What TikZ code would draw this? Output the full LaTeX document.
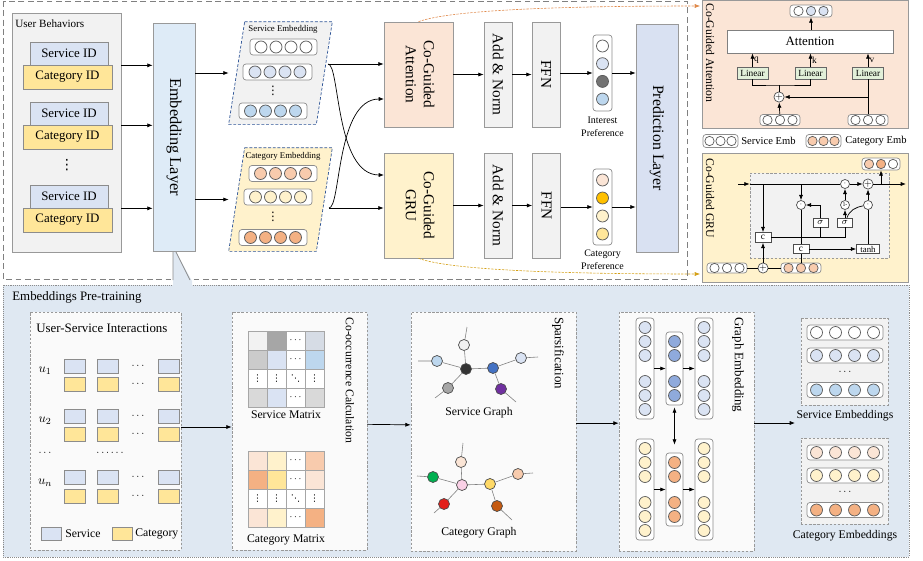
\documentclass[tikz,border=0pt]{standalone}
\usepackage{fontspec}
\setmainfont{Liberation Serif}
\newfontfamily\dotsfont{DejaVu Sans}
\usetikzlibrary{arrows.meta}
\definecolor{svc}{HTML}{DAE3F3}
\definecolor{sblue}{HTML}{BDD7EE}
\definecolor{yel}{HTML}{FFE699}
\definecolor{lyel}{HTML}{FFF2CC}
\definecolor{peach}{HTML}{FBE5D6}
\definecolor{peachb}{HTML}{F8CBAD}
\definecolor{orng}{HTML}{F4B183}
\definecolor{gold}{HTML}{FFC000}
\definecolor{lgrey}{HTML}{F2F2F2}
\definecolor{mgrey}{HTML}{D9D9D9}
\definecolor{mgreyb}{HTML}{CBCBCB}
\definecolor{dgrey}{HTML}{A6A6A6}
\definecolor{sgrey}{HTML}{D6DCE5}
\definecolor{offwhite}{HTML}{FAFAFA}
\definecolor{embblue}{HTML}{DEEBF7}
\definecolor{predblue}{HTML}{D9E1F2}
\definecolor{poolblue}{HTML}{DFE8F2}
\definecolor{lgreen}{HTML}{E2F0D9}
\definecolor{gcnblue}{HTML}{8FAADC}
\definecolor{dashblue}{HTML}{2F5597}
\definecolor{attnline}{HTML}{E08A4C}
\definecolor{gruline}{HTML}{D4A017}
\definecolor{nblue}{HTML}{4472C4}
\definecolor{npurple}{HTML}{7030A0}
\definecolor{npink}{HTML}{FAD0E6}
\definecolor{nyel}{HTML}{FFD966}
\definecolor{ngreen}{HTML}{00B050}
\definecolor{nred}{HTML}{E3201B}
\definecolor{nbrown}{HTML}{C55A11}
\newcommand{\fs}[2]{\fontsize{#1}{#2}\selectfont}
\newcommand{\vdts}{{\dotsfont ⋮}}
\newcommand{\ddts}{{\dotsfont ⋱}}
\newcommand{\hcells}[6]{\foreach \k in {1,...,#4}
  \node[#6] (#1-\k) at ({#2+(\k-(#4+1)/2)*#5},#3) {};}

\begin{document}
\begin{tikzpicture}[x=0.03cm, y=-0.03cm, >={Latex[length=4.5pt,width=3.5pt]}, line width=0.6pt,
  wd/.style={minimum width=#1*0.03cm}, ht/.style={minimum height=#1*0.03cm},
  box/.style={draw=black!40, inner sep=0pt, font=\fs{13}{15.5}},
  idbox/.style={draw=black!45, inner sep=0pt, font=\fs{11}{13}},
  vec/.style={draw=black!45, fill=white, rounded corners=2.5pt, inner sep=0pt},
  cell/.style={circle, draw=black!65, inner sep=0pt, minimum size=0.36cm},
  scell/.style={circle, draw=black!65, inner sep=0pt, minimum size=0.28cm},
  op/.style={circle, draw=black!70, fill=white, inner sep=0pt, minimum size=0.3cm, font=\fs{8}{9}},
  dotop/.style={circle, draw=black!70, fill=white, inner sep=0pt, minimum size=0.27cm, font=\fs{7}{8}},
  gate/.style={draw=black!70, fill=white, inner sep=0pt, font=\fs{8}{9}},
  lin/.style={draw=black!60, fill=lgreen, inner sep=0pt, wd=31, ht=12, font=\fs{8}{9}},
  inbox/.style={draw=black!40, dash pattern=on 2pt off 1.5pt, fill=offwhite, inner sep=0pt},
  embpanel/.style={draw=dashblue, dash pattern=on 2.5pt off 1.5pt},
  sq/.style={draw=black!45, inner sep=0pt, wd=21, ht=14},
  mcell/.style={draw=black!35, inner sep=0pt, minimum size=0.57cm, font=\fs{8}{10}},
  gnode/.style={circle, draw=black!70, inner sep=0pt, minimum size=0.33cm},
  gedge/.style={draw=black!50, line width=0.5pt},
  dots/.style={inner sep=0pt, font=\fs{9}{10}},
  attnflow/.style={draw=attnline, dash pattern=on 2pt off 1pt, line width=0.5pt},
  gruflow/.style={draw=gruline, dash pattern=on 2pt off 1pt, line width=0.5pt},
  title/.style={inner sep=0pt, font=\fs{11}{13}}]
  \useasboundingbox (0,0) rectangle (923,561);
  \draw[black!50, dash pattern=on 5pt off 3pt] (3,1) rectangle (687,279);
  \draw[black!45, densely dotted, fill=poolblue] (3,285) rectangle (909,557);
  \fill[poolblue] (173,252) -- (176,252) -- (192,281) -- (192,287) -- (173,287) -- cycle;
  \draw[black!45] (173,252) -- (173,280) (176,252) -- (190,280);

  \node[draw=black!40, fill=lgrey, wd=109, ht=239] (ubeh) at (66.5,132.5) {};
  \node[anchor=west, inner sep=0pt, font=\fs{9.5}{11}] (ubtit) at (15,24) {User Behaviors};
  \foreach \n/\y in {1/53.5, 2/113.5, 3/196.5} {
    \node[idbox, fill=svc, wd=78, ht=23] (sid\n) at (69,\y) {Service ID};
    \node[idbox, fill=yel, wd=89, ht=24] (cid\n) at (67.5,\y+23.5) {Category ID};
  }
  \node[dots, font=\fs{12}{14}] (udots) at (67,165) {\vdts};
  \node[box, fill=embblue, wd=42, ht=228, font=\fs{14}{16}] (emb) at (174,137) {\rotatebox{-90}{Embedding Layer}};
  \foreach \n in {1,2,3} \draw[->] (sid\n.south -| ubeh.east) -- (sid\n.south -| emb.west);

  \node[inner sep=0pt, wd=103, ht=102] (sepan) at (280.5,73) {};
  \draw[embpanel, fill=lgrey] ([xshift=0.48cm]sepan.north west) -- (sepan.north east) -- ([xshift=-0.48cm]sepan.south east) -- (sepan.south west) -- cycle;
  \node[inner sep=0pt, font=\fs{7.5}{9}] (selab) at (283,29) {Service Embedding};
  \node[vec, wd=67, ht=16] (ser1) at (283.5,47) {};
  \hcells{ser1}{283.5}{47}{4}{15}{cell, fill=white}
  \node[vec, wd=69, ht=16] (ser2) at (277.5,72) {};
  \hcells{ser2}{277.5}{72}{4}{15}{cell, fill=svc}
  \node[dots, font=\fs{10}{12}] (sedots) at (273,91) {\vdts};
  \node[vec, wd=68, ht=16] (ser3) at (273,111) {};
  \hcells{ser3}{273}{111}{4}{15}{cell, fill=sblue}

  \node[inner sep=0pt, wd=103, ht=103] (cepan) at (280.5,199.5) {};
  \draw[embpanel, fill=lyel] ([xshift=0.48cm]cepan.north west) -- (cepan.north east) -- ([xshift=-0.48cm]cepan.south east) -- (cepan.south west) -- cycle;
  \node[inner sep=0pt, font=\fs{7.5}{9}] (celab) at (283,156) {Category Embedding};
  \node[vec, wd=68, ht=16] (cer1) at (283,173.5) {};
  \hcells{cer1}{283}{173.5}{4}{15}{cell, fill=peachb}
  \node[vec, wd=68, ht=16] (cer2) at (278,197) {};
  \hcells{cer2}{278}{197}{4}{15}{cell, fill=lyel}
  \node[dots, font=\fs{10}{12}] (cedots) at (273,217) {\vdts};
  \node[vec, wd=68, ht=16] (cer3) at (273,237.5) {};
  \hcells{cer3}{273}{237.5}{4}{15}{cell, fill=orng}
  \draw[->] (sepan.west -| emb.east) -- (sepan.west);
  \draw[->] (cepan.west -| emb.east) -- (cepan.west);

  \node[box, fill=peach, wd=69, ht=105] (attn) at (418.5,74.5) {\rotatebox{-90}{\begin{tabular}{@{}c@{}}Co-Guided\\Attention\end{tabular}}};
  \node[box, fill=lyel, wd=69, ht=105] (gru) at (418.5,205.5) {\rotatebox{-90}{\begin{tabular}{@{}c@{}}Co-Guided\\GRU\end{tabular}}};
  \coordinate (seout) at (328,64);
  \coordinate (ceout) at (329,208);
  \coordinate (gin) at (384,175);
  \coordinate (ain) at (384,99);
  \draw[->] (seout) -- (seout -| attn.west);
  \draw[->] (ceout) -- (ceout -| gru.west);
  \draw[->] (seout) .. controls (340,64) and (335,175) .. (gin);
  \draw[->] (ceout) .. controls (341,208) and (336,99) .. (ain);

  \node[box, fill=lgrey, wd=28, ht=105] (an1) at (498,74.5) {\rotatebox{-90}{Add \& Norm}};
  \node[box, fill=lgrey, wd=28, ht=105] (ffn1) at (546,74.5) {\rotatebox{-90}{FFN}};
  \node[box, fill=lgrey, wd=28, ht=105] (an2) at (498,205.5) {\rotatebox{-90}{Add \& Norm}};
  \node[box, fill=lgrey, wd=28, ht=105] (ffn2) at (546.5,205.5) {\rotatebox{-90}{FFN}};
  \node[vec, wd=19, ht=76] (ivec) at (602.5,73) {};
  \foreach \clr [count=\k] in {white,svc,black!55,sblue}
    \node[cell, fill=\clr] (ivec-\k) at (602.5,{46+(\k-1)*17.7}) {};
  \node[vec, wd=19, ht=76] (cvec) at (602.5,207) {};
  \foreach \clr [count=\k] in {peach,gold,lyel,yel}
    \node[cell, fill=\clr] (cvec-\k) at (602.5,{180+(\k-1)*18}) {};
  \node[inner sep=0pt, font=\fs{8.5}{11}, align=center] (ilab) at (602.5,127) {Interest\\Preference};
  \node[inner sep=0pt, font=\fs{8.5}{11}, align=center] (clab) at (602.5,260) {Category\\Preference};
  \node[box, fill=predblue, wd=42, ht=228, font=\fs{13.5}{16}] (pred) at (657,138) {\rotatebox{-90}{Prediction Layer}};
  \draw[->] (attn) -- (an1);
  \draw[->] (an1) -- (ffn1);
  \draw[->] (ffn1.east |- ivec) -- (ivec.west);
  \draw[->] (ivec.east) -- (ivec.east -| pred.west);
  \draw[->] (gru) -- (an2);
  \draw[->] (an2) -- (ffn2);
  \draw[->] (ffn2.east |- cvec) -- (cvec.west);
  \draw[->] (cvec.east) -- (cvec.east -| pred.west);

  \node[draw=black!40, fill=peach, wd=206, ht=128] (apanel) at (805,64) {};
  \node[draw=black!40, fill=lyel, wd=206, ht=129] (gpanel) at (805,217.5) {};
  \coordinate (atip) at (700,6);
  \coordinate (gtip) at (700,274);
  \draw[attnflow, ->] (attn.north) .. controls (450,10) and (560,6) .. (atip);
  \draw[gruflow, ->] (gru.south) .. controls (450,270) and (560,274) .. (gtip);

  \node[anchor=north, inner sep=0pt, font=\fs{10}{12}] (aptit) at (710,3) {\rotatebox{-90}{Co-Guided Attention}};
  \node[vec, wd=42, ht=12] (aout) at (811,11) {};
  \foreach \clr [count=\k] in {white,svc,svc}
    \node[scell, fill=\clr] (aout-\k) at ({811+(\k-2)*12.5},11) {};
  \node[draw=black!50, fill=white, wd=166, ht=23, font=\fs{11}{13}] (att) at (810,41.5) {Attention};
  \node[lin] (lq) at (752.5,73) {Linear};
  \node[lin] (lk) at (810.5,73) {Linear};
  \node[lin] (lv) at (868,73) {Linear};
  \draw[->] (att.north -| aout) -- (aout.south);
  \draw[->] (lq) -- (lq |- att.south) node[midway, right, inner sep=1pt, font=\fs{8}{9}] {q};
  \draw[->] (lk) -- (lk |- att.south) node[midway, right, inner sep=1pt, font=\fs{8}{9}] {k};
  \draw[->] (lv) -- (lv |- att.south) node[midway, right, inner sep=1pt, font=\fs{8}{9}] {v};
  \node[op] (aadd) at (779,97) {$+$};
  \node[vec, wd=40, ht=11] (asv) at (780,120) {};
  \hcells{asv}{780}{120}{3}{12.5}{scell, fill=white}
  \node[vec, wd=40, ht=11] (acv) at (868,120) {};
  \hcells{acv}{868}{120}{3}{12.5}{scell, fill=white}
  \coordinate (qk) at (779,85);
  \draw (lq.south) |- (qk) -| (lk.south);
  \draw (aadd) -- (qk);
  \draw[->] (asv) -- (aadd);
  \draw (acv) -- (lv);
  \draw[->] (acv |- aadd) -- (aadd);

  \node[vec, wd=35, ht=13] (lgs) at (720.5,141) {};
  \hcells{lgs}{720.5}{141}{3}{11}{scell, fill=white}
  \node[anchor=west, inner sep=0pt, font=\fs{9}{11}] (lgst) at (741,141) {Service Emb};
  \node[vec, wd=35, ht=13] (lgc) at (823.5,141) {};
  \hcells{lgc}{823.5}{141}{3}{11}{scell, fill=peachb}
  \node[anchor=west, inner sep=0pt, font=\fs{9}{11}] (lgct) at (845,141) {Category Emb};

  \node[anchor=north, inner sep=0pt, font=\fs{10}{12}] (gptit) at (710,158) {\rotatebox{-90}{Co-Guided GRU}};
  \node[vec, wd=38, ht=12] (gout) at (881,164) {};
  \foreach \clr [count=\k] in {peachb,orng,white}
    \node[scell, fill=\clr] (gout-\k) at ({881+(\k-2)*12},164) {};
  \node[draw=black!40, dash pattern=on 2pt off 1.5pt, fill=lgrey, wd=139, ht=85] (gbox) at (819.5,215.5) {};
  \coordinate (hin) at (738,184);
  \coordinate (hout) at (906,184);
  \node[dotop] (m1) at (845,184) {$\cdot$};
  \node[op] (a1) at (868,184) {$+$};
  \node[dotop] (m2) at (801,205) {$\cdot$};
  \node[dotop] (om) at (845,205) {\fs{5}{6}1-};
  \node[dotop] (m3) at (868,205) {$\cdot$};
  \node[gate, wd=16, ht=10] (c1) at (763,237.5) {c};
  \node[gate, wd=15, ht=9] (s1) at (820.5,222.5) {$\sigma$};
  \node[gate, wd=15, ht=9] (s2) at (845,222.5) {$\sigma$};
  \node[gate, wd=16, ht=9] (c2) at (801,249) {c};
  \node[gate, wd=23, ht=9, font=\fs{7.5}{9}] (tanh) at (868,249) {tanh};
  \node[vec, wd=40, ht=10] (gsv) at (727,268) {};
  \hcells{gsv}{727}{268}{3}{12.5}{scell, fill=white}
  \node[op] (a2) at (763,268) {$+$};
  \node[vec, wd=40, ht=10] (gcv) at (801,268) {};
  \hcells{gcv}{801}{268}{3}{12.5}{scell, fill=peachb}
  \draw[->] (hin) -- (hin -| gbox.west);
  \draw (hin -| gbox.west) -- (m1);
  \draw[->] (m1) -- (a1);
  \draw[->] (a1) -- (hout);
  \draw[->] (gout |- a1) -- (gout);
  \draw[->] (c1 |- hin) -- (c1);
  \draw[->] (m2 |- hin) -- (m2);
  \draw[->] (s1) |- (m2);
  \draw[->] (s2) -- (om);
  \draw[->] (om) -- (m1);
  \draw ([xshift=0.06cm]s2.north) to[out=70, in=190] (m3);
  \draw[->] (m3) -- (a1);
  \draw (tanh) -- (m3);
  \draw[->] (c2) -- (tanh);
  \draw (c1) -| (s2);
  \draw (s1.south |- c1) -- (s1);
  \draw (m2) -- (c2);
  \draw (gsv) -- (a2);
  \draw (a2) -- (gcv);
  \draw[->] (a2) -- (c1);
  \draw (gcv) -- (c2);

  \node[anchor=west, title] (eptit) at (12,297) {Embeddings Pre-training};
  \node[inbox, wd=151, ht=238] (usbox) at (105.5,431) {};
  \node[anchor=west, title] (ustit) at (36,328) {User-Service Interactions};
  \foreach \r/\y/\lab in {1/366/{$u_1$}, 2/416/{$u_2$}, 3/477.5/{$u_n$}} {
    \node[inner sep=0pt, font=\fs{11}{13}] (u\r) at (45,\y+5) {\lab};
    \foreach \cx [count=\c] in {74.5,107.5,168.5} {
      \node[sq, fill=svc] (us\r-\c) at (\cx,\y) {};
      \node[sq, fill=yel] (uc\r-\c) at (\cx,\y+18.5) {};
    }
    \node[dots] (usd\r) at (138,\y) {$\cdots$};
    \node[dots] (ucd\r) at (138,\y+18.5) {$\cdots$};
  }
  \node[dots] (udl) at (45,453) {$\cdots$};
  \node[dots] (udm) at (110,453) {$\cdots\cdots$};
  \node[sq, fill=svc, wd=20, ht=13] (lsv) at (51,533.5) {};
  \node[anchor=west, inner sep=0pt, font=\fs{10}{12}] (lsvt) at (65,534) {Service};
  \node[sq, fill=yel, wd=20, ht=13] (lcat) at (122,533.5) {};
  \node[anchor=west, inner sep=0pt, font=\fs{10}{12}] (lcatt) at (135,534) {Category};

  \node[inbox, wd=135, ht=238] (cobox) at (299.5,431) {};
  \node[anchor=north, inner sep=0pt, font=\fs{10}{12}] (cotit) at (350,317) {\rotatebox{-90}{Co-occurrence Calculation}};
  \foreach \clr/\txt [count=\k] in {lgrey/{}, dgrey/{}, white/{$\cdots$}, sgrey/{},
      mgreyb/{}, svc/{}, white/{$\cdots$}, sblue/{},
      white/{\vdts}, white/{\vdts}, white/{\ddts}, white/{\vdts},
      mgrey/{}, svc/{}, white/{$\cdots$}, mgrey/{}}
    \node[mcell, fill=\clr] (sm-\k) at ({257.5+19*mod(\k-1,4)},{340.5+19*floor((\k-1)/4)}) {\txt};
  \node[inner sep=0pt, font=\fs{10}{12}] (smlab) at (286,415) {Service Matrix};
  \foreach \clr/\txt [count=\k] in {peach/{}, lyel/{}, white/{$\cdots$}, peachb/{},
      orng/{}, yel/{}, white/{$\cdots$}, peach/{},
      white/{\vdts}, white/{\vdts}, white/{\ddts}, white/{\vdts},
      peach/{}, lyel/{}, white/{$\cdots$}, orng/{}}
    \node[mcell, fill=\clr] (cm-\k) at ({257.5+19*mod(\k-1,4)},{460.5+19*floor((\k-1)/4)}) {\txt};
  \node[inner sep=0pt, font=\fs{10}{12}] (cmlab) at (286,540) {Category Matrix};

  \node[inbox, wd=165, ht=239] (spbox) at (493.5,431.5) {};
  \node[anchor=north, title] (sptit) at (558,317) {\rotatebox{-90}{Sparsification}};
  \node[gnode, fill=black!80] (gsc) at (466,369) {};
  \node[gnode, fill=nblue] (gsb) at (493,368) {};
  \node[gnode, fill=lgrey] (gst) at (464,345) {};
  \node[gnode, fill=sblue] (gsl) at (437,361) {};
  \node[gnode, fill=dgrey] (gsg) at (448,388) {};
  \node[gnode, fill=npurple] (gsp) at (501,389) {};
  \node[gnode, fill=svc] (gsr) at (521,358) {};
  \coordinate (gst0) at (467,327);
  \coordinate (gsl0) at (418,361);
  \coordinate (gsg0) at (435,398);
  \coordinate (gsp0) at (516,402);
  \coordinate (gsr0) at (538,357);
  \draw[gedge] (gsc) -- (gst) (gsc) -- (gsl) (gsc) -- (gsg) (gsc) -- (gsb) (gsb) -- (gsp) (gsb) -- (gsr)
    (gst) -- (gst0) (gsl) -- (gsl0) (gsg) -- (gsg0) (gsp) -- (gsp0) (gsr) -- (gsr0);
  \node[inner sep=0pt, font=\fs{10}{12}] (sglab) at (479,413) {Service Graph};
  \node[gnode, fill=npink] (gcc) at (462,485) {};
  \node[gnode, fill=nyel] (gcy) at (490,484) {};
  \node[gnode, fill=peach] (gct) at (461,462) {};
  \node[gnode, fill=ngreen] (gcg) at (433,477) {};
  \node[gnode, fill=nred] (gcr) at (444,504) {};
  \node[gnode, fill=nbrown] (gcb) at (497,506) {};
  \node[gnode, fill=peachb] (gcp) at (518,474) {};
  \coordinate (gct0) at (463,443);
  \coordinate (gcg0) at (417,476);
  \coordinate (gcr0) at (434,513);
  \coordinate (gcb0) at (512,520);
  \coordinate (gcp0) at (533,473);
  \draw[gedge] (gcc) -- (gct) (gcc) -- (gcg) (gcc) -- (gcr) (gcc) -- (gcy) (gcy) -- (gcb) (gcy) -- (gcp)
    (gct) -- (gct0) (gcg) -- (gcg0) (gcr) -- (gcr0) (gcb) -- (gcb0) (gcp) -- (gcp0);
  \node[inner sep=0pt, font=\fs{10}{12}] (cglab) at (479,533) {Category Graph};

  \node[inbox, wd=135, ht=239] (gebox) at (686.5,431.5) {};
  \node[anchor=north, title] (getit) at (738,317) {\rotatebox{-90}{Graph Embedding}};
  \foreach \n/\cx/\cy/\clr in {gu1/645/368.5/svc, gu3/704/368.5/svc, gl1/645/489.5/lyel, gl3/704/489.5/lyel} {
    \node[vec, wd=18, ht=101] (\n) at (\cx,\cy) {};
    \foreach \dy [count=\k] in {-41,-27,-13,13,27,41}
      \node[cell, fill=\clr] (\n-\k) at (\cx,\cy+\dy) {};
  }
  \foreach \n/\cy/\clr in {gu2/368.5/gcnblue, gl2/489.5/orng} {
    \node[vec, wd=17, ht=73] (\n) at (674.5,\cy) {};
    \foreach \dy [count=\k] in {-27,-13,13,27}
      \node[cell, fill=\clr] (\n-\k) at (674.5,\cy+\dy) {};
  }
  \draw[->] (gu1) -- (gu2);
  \draw[->] (gu2) -- (gu3);
  \draw[->] (gl1) -- (gl2);
  \draw[->] (gl2) -- (gl3);
  \draw[<->, shorten <=0.06cm, shorten >=0.24cm] (gu2) -- (gl2);

  \node[inbox, fill=lgrey, wd=87, ht=87] (sebox) at (844.5,361.5) {};
  \foreach \n/\y/\clr in {se1/332.5/white, se2/355.5/svc, se3/390/sblue} {
    \node[vec, wd=76, ht=15] (\n) at (845,\y) {};
    \hcells{\n}{845}{\y}{4}{19}{cell, fill=\clr}
  }
  \node[dots] (sedot) at (845,372) {$\cdots$};
  \node[inner sep=0pt, font=\fs{10}{12}] (selab2) at (845,416) {Service Embeddings};
  \node[inbox, fill=lgrey, wd=87, ht=86] (cebox) at (844.5,481) {};
  \foreach \n/\y/\clr in {ce1/452.5/peach, ce2/475.5/lyel, ce3/510/orng} {
    \node[vec, wd=76, ht=15] (\n) at (845,\y) {};
    \hcells{\n}{845}{\y}{4}{19}{cell, fill=\clr}
  }
  \node[dots] (cedot) at (845,492) {$\cdots$};
  \node[inner sep=0pt, font=\fs{10}{12}] (celab2) at (845,536) {Category Embeddings};

  \coordinate (geout) at (795,423);
  \draw[->] ([yshift=0.12cm]usbox.east) -- ([yshift=0.12cm]cobox.west);
  \draw[->] ([yshift=0.2cm]cobox.east) -- ([yshift=0.2cm]spbox.west);
  \draw[->] ([yshift=0.25cm]spbox.east) -- ([yshift=0.25cm]gebox.west);
  \draw[->] (gebox.east |- geout) -- (geout);
\end{tikzpicture}
\end{document}
